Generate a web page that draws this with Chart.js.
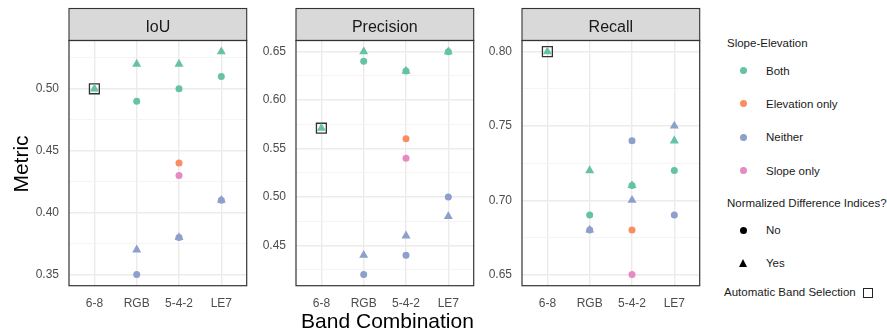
<!DOCTYPE html>
<html><head><meta charset="utf-8">
<script src="https://cdn.jsdelivr.net/npm/chart.js@4"></script>
<style>
body{margin:0;background:#fff;width:887px;height:334px;overflow:hidden;position:relative;font-family:'Liberation Sans',Arial,sans-serif;}
canvas{position:absolute;top:0;}
.t{position:absolute;white-space:nowrap;color:#1a1a1a;font-size:11.5px;line-height:14px;}
.ax{position:absolute;white-space:nowrap;color:#000;font-size:21px;line-height:24px;text-align:center;}
.dot{position:absolute;width:7px;height:7px;border-radius:50%;}
.tri{position:absolute;width:0;height:0;border-left:4.5px solid transparent;border-right:4.5px solid transparent;border-bottom:8px solid #000;}
.box{position:absolute;width:8px;height:8px;border:1.4px solid #222;}
</style></head><body>
<canvas id="c0" width="230" height="334" style="left:25px"></canvas>
<canvas id="c1" width="230" height="334" style="left:252px"></canvas>
<canvas id="c2" width="230" height="334" style="left:478px"></canvas>

<div class="ax" style="left:-29px;top:151.5px;width:100px;transform:rotate(-90deg);">Metric</div>
<div class="ax" style="left:237.5px;top:309px;width:300px;">Band Combination</div>

<div class="t" style="left:727px;top:36px;">Slope-Elevation</div>
<div class="dot" style="left:739.5px;top:67px;background:#66C2A5"></div>
<div class="t" style="left:766px;top:64px;">Both</div>
<div class="dot" style="left:739.5px;top:100px;background:#FC8D62"></div>
<div class="t" style="left:766px;top:97px;">Elevation only</div>
<div class="dot" style="left:739.5px;top:133.5px;background:#8DA0CB"></div>
<div class="t" style="left:766px;top:130px;">Neither</div>
<div class="dot" style="left:739.5px;top:167px;background:#E78AC3"></div>
<div class="t" style="left:766px;top:164px;">Slope only</div>
<div class="t" style="left:727px;top:196px;">Normalized Difference Indices?</div>
<div class="dot" style="left:739.5px;top:226.5px;background:#000"></div>
<div class="t" style="left:766px;top:223px;">No</div>
<div class="tri" style="left:738.5px;top:258.5px;"></div>
<div class="t" style="left:766px;top:256px;">Yes</div>
<div class="t" style="left:724px;top:285px;">Automatic Band Selection</div>
<div class="box" style="left:863px;top:287.5px;"></div>

<script>
const bands = ['6-8', 'RGB', '5-4-2', 'LE7'];
const metrics = ['IoU', 'Precision', 'Recall'];

// IoU
const iouBothNo     = [null, 0.49, 0.50, 0.51];
const iouBothYes    = [0.50, 0.52, 0.52, 0.53];
const iouElevNo     = [null, null, 0.44, null];
const iouSlopeNo    = [null, null, 0.43, null];
const iouNeitherNo  = [null, 0.35, 0.38, 0.41];
const iouNeitherYes = [null, 0.37, 0.38, 0.41];
const iouAuto       = [0.50, null, null, null];

// Precision
const precBothNo     = [null, 0.64, 0.63, 0.65];
const precBothYes    = [0.571, 0.65, 0.63, 0.65];
const precElevNo     = [null, null, 0.56, null];
const precSlopeNo    = [null, null, 0.54, null];
const precNeitherNo  = [null, 0.42, 0.44, 0.50];
const precNeitherYes = [null, 0.44, 0.46, 0.48];
const precAuto       = [0.571, null, null, null];

// Recall
const recBothNo     = [null, 0.69, 0.71, 0.72];
const recBothYes    = [0.80, 0.72, 0.71, 0.74];
const recElevNo     = [null, null, 0.68, null];
const recSlopeNo    = [null, null, 0.65, null];
const recNeitherNo  = [null, 0.68, 0.74, 0.69];
const recNeitherYes = [null, 0.68, 0.70, 0.75];
const recAuto       = [0.80, null, null, null];

const colBoth = '#66C2A5', colElev = '#FC8D62', colNeither = '#8DA0CB', colSlope = '#E78AC3';

const panels = [
  {title: metrics[0], both: [iouBothNo, iouBothYes], elev: iouElevNo, slope: iouSlopeNo, neither: [iouNeitherNo, iouNeitherYes], auto: iouAuto},
  {title: metrics[1], both: [precBothNo, precBothYes], elev: precElevNo, slope: precSlopeNo, neither: [precNeitherNo, precNeitherYes], auto: precAuto},
  {title: metrics[2], both: [recBothNo, recBothYes], elev: recElevNo, slope: recSlopeNo, neither: [recNeitherNo, recNeitherYes], auto: recAuto}
];

const FONT = "'Liberation Sans', Arial, sans-serif";

function pts(arr) {
  const out = [];
  arr.forEach((v, i) => { if (v !== null) out.push({x: i + 1, y: v}); });
  return out;
}
function ds(arr, color, shape) {
  const tri = shape === 'triangle';
  return {
    data: pts(arr),
    pointStyle: shape,
    pointRadius: tri ? 5.2 : 3.5,
    pointHoverRadius: tri ? 5.2 : 3.5,
    pointBackgroundColor: color,
    pointBorderWidth: 0,
    showLine: false,
    order: tri ? 2 : 1
  };
}

const stripPlugin = {
  id: 'strip',
  afterDraw(chart, args, opts) {
    const {ctx, chartArea: {left, right, top, bottom}} = chart;
    ctx.save();
    ctx.fillStyle = '#D9D9D9';
    ctx.fillRect(left, 8.5, right - left, top - 8.5);
    ctx.strokeStyle = '#333333';
    ctx.lineWidth = 1.1;
    ctx.strokeRect(left, 8.5, right - left, top - 8.5);
    ctx.fillStyle = '#1A1A1A';
    ctx.font = '16px ' + FONT;
    ctx.textAlign = 'center';
    ctx.textBaseline = 'alphabetic';
    ctx.fillText(opts.text, (left + right) / 2, 32);
    ctx.strokeStyle = '#333333';
    ctx.lineWidth = 1.2;
    ctx.strokeRect(left, top, right - left, bottom - top);
    ctx.restore();
  }
};

panels.forEach((p, idx) => {
  const all = [].concat(p.both[0], p.both[1], p.elev, p.slope, p.neither[0], p.neither[1]).filter(v => v !== null);
  const lo = Math.min(...all), hi = Math.max(...all);
  const pad = (hi - lo) * 0.05;
  const datasets = [
    ds(p.both[0], colBoth, 'circle'),
    ds(p.elev, colElev, 'circle'),
    ds(p.slope, colSlope, 'circle'),
    ds(p.neither[0], colNeither, 'circle'),
    ds(p.both[1], colBoth, 'triangle'),
    ds(p.neither[1], colNeither, 'triangle'),
    Object.assign(ds(p.auto, 'rgba(0,0,0,0)', 'rect'), {pointRadius: 7, pointHoverRadius: 7, pointBorderWidth: 1.3, pointBorderColor: '#333333', order: 3})
  ];
  new Chart(document.getElementById('c' + idx), {
    type: 'scatter',
    data: {datasets},
    plugins: [stripPlugin],
    options: {
      responsive: false,
      animation: false,
      devicePixelRatio: 1,
      layout: {padding: {top: 40.5, right: 2, bottom: 0, left: 0}},
      plugins: {legend: {display: false}, tooltip: {enabled: false}, strip: {text: p.title}},
      scales: {
        x: {
          type: 'linear', min: 0.4, max: 4.6,
          afterBuildTicks: s => { s.ticks = bands.map((b, i) => ({value: i + 1})); },
          afterFit: s => { s.height = 48.3; },
          ticks: {callback: v => bands[v - 1], color: '#4D4D4D', font: {size: 12, family: FONT}, padding: 10.5, maxRotation: 0, autoSkip: false},
          grid: {color: '#EBEBEB', lineWidth: 1.4, drawTicks: false},
          border: {display: false}
        },
        y: {
          type: 'linear', min: lo - pad, max: hi + pad,
          afterBuildTicks: s => {
            const t = [];
            for (let k = Math.ceil(s.min * 40 - 1e-9); k <= Math.floor(s.max * 40 + 1e-9); k++) t.push({value: k / 40});
            s.ticks = t;
          },
          afterFit: s => { s.width = 44; },
          ticks: {
            callback: v => (Math.round(v * 40) % 2 === 0 ? v.toFixed(2) : ''),
            color: '#4D4D4D', font: {size: 12, family: FONT}, padding: 10, autoSkip: false
          },
          grid: {
            color: c => (Math.round(c.tick.value * 40) % 2 === 0 ? '#EBEBEB' : '#F1F1F1'),
            lineWidth: c => (Math.round(c.tick.value * 40) % 2 === 0 ? 1.4 : 0.8),
            drawTicks: false
          },
          border: {display: false}
        }
      }
    }
  });
});
</script>
</body></html>
